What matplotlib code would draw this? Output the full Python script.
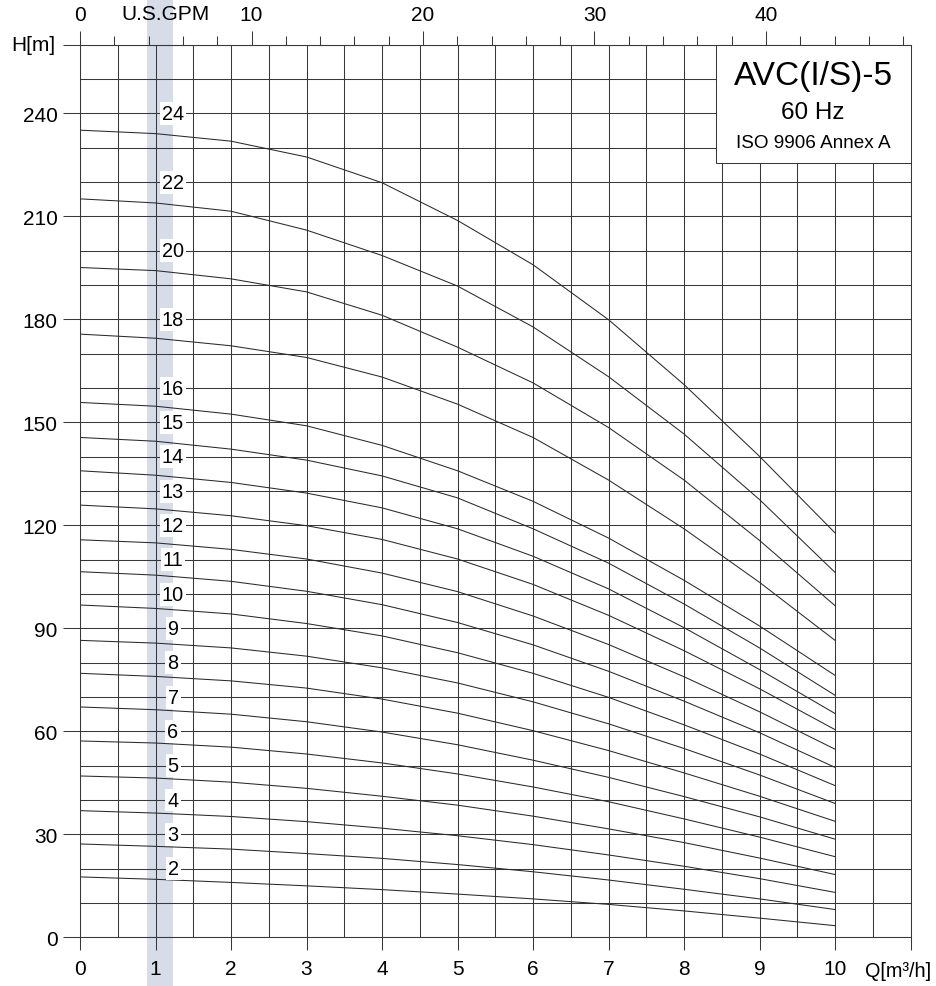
import matplotlib
matplotlib.use("Agg")
import matplotlib.pyplot as plt
from matplotlib.ticker import MultipleLocator, FixedLocator
from matplotlib.patches import Rectangle

plt.rcParams["font.family"] = ["Liberation Sans", "DejaVu Sans"]

# flow points (m3/h) where the curves were read
flow = [0, 1, 2, 3, 4, 5, 6, 7, 8, 9, 10]

# head (m) per number of stages
head_2 = [17.6, 16.9, 16.0, 15.0, 13.9, 12.6, 11.2, 9.6, 7.7, 5.6, 3.4]
head_3 = [27.2, 26.5, 25.7, 24.4, 23.0, 21.2, 19.1, 16.7, 14.0, 11.2, 8.1]
head_4 = [36.9, 36.2, 35.2, 33.7, 31.8, 29.6, 27.0, 24.0, 20.7, 17.1, 13.1]
head_5 = [47.0, 46.4, 45.2, 43.4, 41.1, 38.5, 35.3, 31.6, 27.6, 23.1, 18.3]
head_6 = [57.2, 56.6, 55.4, 53.4, 50.8, 47.6, 43.8, 39.5, 34.5, 29.2, 23.5]
head_7 = [67.1, 66.3, 65.0, 62.8, 59.8, 56.1, 51.6, 46.6, 41.0, 35.1, 28.6]
head_8 = [76.9, 76.0, 74.7, 72.6, 69.4, 65.3, 60.2, 54.4, 47.9, 41.1, 33.8]
head_9 = [86.5, 85.7, 84.3, 81.9, 78.5, 74.1, 68.6, 62.2, 55.0, 47.3, 39.0]
head_10 = [96.8, 95.8, 94.2, 91.4, 87.8, 82.9, 76.9, 69.9, 61.9, 53.4, 44.2]
head_11 = [106.5, 105.5, 103.7, 100.8, 96.9, 91.7, 85.2, 77.5, 68.8, 59.6, 49.5]
head_12 = [115.8, 114.9, 113.0, 110.2, 106.1, 100.7, 93.6, 85.3, 75.9, 65.7, 54.8]
head_13 = [125.9, 124.8, 122.8, 119.9, 115.9, 110.2, 102.8, 93.8, 83.5, 72.4, 60.5]
head_14 = [135.9, 134.6, 132.5, 129.4, 125.1, 119.0, 111.0, 101.5, 90.2, 78.0, 65.2]
head_15 = [145.6, 144.5, 142.2, 139.0, 134.4, 128.0, 119.0, 109.0, 97.1, 84.3, 70.5]
head_16 = [155.8, 154.7, 152.4, 149.0, 143.3, 135.9, 127.0, 116.3, 104.0, 90.7, 76.3]
head_18 = [175.7, 174.5, 172.3, 168.9, 163.2, 155.3, 145.6, 133.2, 119.0, 103.4, 86.5]
head_20 = [195.1, 194.2, 191.8, 188.0, 181.2, 171.9, 161.5, 148.5, 133.2, 115.6, 96.6]
head_22 = [215.1, 213.9, 211.5, 206.0, 198.6, 189.7, 177.8, 163.3, 146.6, 127.5, 106.3]
head_24 = [235.1, 234.1, 231.9, 227.3, 219.8, 208.8, 195.9, 179.9, 161.0, 140.1, 117.8]

curves = {2: head_2, 3: head_3, 4: head_4, 5: head_5, 6: head_6, 7: head_7,
          8: head_8, 9: head_9, 10: head_10, 11: head_11, 12: head_12,
          13: head_13, 14: head_14, 15: head_15, 16: head_16, 18: head_18,
          20: head_20, 22: head_22, 24: head_24}

x_ticks = [0, 1, 2, 3, 4, 5, 6, 7, 8, 9, 10, 11]
x_labels = ["0", "1", "2", "3", "4", "5", "6", "7", "8", "9", "10", ""]
y_ticks = [0, 30, 60, 90, 120, 150, 180, 210, 240, 260]
y_labels = ["0", "30", "60", "90", "120", "150", "180", "210", "240", ""]
gpm_ticks = [0, 10, 20, 30, 40]
GPM_PER_M3H = 4.4029

line_col = "#383838"
pale = "#d6dde9"

fig = plt.figure(figsize=(9.36, 9.87), dpi=100)
fig.patch.set_facecolor("white")
# pale watermark band behind the chart
fig.add_artist(Rectangle((147 / 936, 0), 26 / 936, 1, transform=fig.transFigure,
                         color=pale, zorder=-1, lw=0))

ax = fig.add_axes([0.0855, 0.0493, 0.8873, 0.9044])
ax.set_facecolor("none")
ax.set_xlim(0, 11)
ax.set_ylim(0, 260)

ax.xaxis.set_major_locator(FixedLocator(x_ticks))
ax.set_xticklabels(x_labels)
ax.xaxis.set_minor_locator(MultipleLocator(0.5))
ax.yaxis.set_major_locator(FixedLocator(y_ticks))
ax.set_yticklabels(y_labels)
ax.yaxis.set_minor_locator(MultipleLocator(10))
ax.grid(which="both", color=line_col, lw=0.75)
ax.set_axisbelow(True)
ax.tick_params(which="major", axis="x", length=9.4, width=0.75, color=line_col,
               labelsize=15, pad=6)
ax.tick_params(which="major", axis="y", length=12.2, width=0.75, color=line_col,
               labelsize=15, pad=4)
ax.tick_params(which="minor", length=0)
for s in ax.spines.values():
    s.set_color(line_col)
    s.set_linewidth(0.75)

# top axis in US GPM
sec = ax.secondary_xaxis("top", functions=(lambda q: q * GPM_PER_M3H,
                                           lambda g: g / GPM_PER_M3H))
sec.xaxis.set_major_locator(FixedLocator(gpm_ticks))
sec.xaxis.set_minor_locator(MultipleLocator(2))
sec.tick_params(which="major", length=10, width=0.75, color=line_col,
                labelsize=15, pad=5)
sec.tick_params(which="minor", length=6.5, width=0.75, color=line_col)
sec.spines["top"].set_color(line_col)
sec.spines["top"].set_linewidth(0.75)

# pump curves with stage numbers
for n, h in curves.items():
    ax.plot(flow, h, color="#2a2a2a", lw=0.75, zorder=2)
    ax.text(1.232, n * 10, str(n), ha="center", va="center", fontsize=14.3,
            zorder=3, bbox=dict(boxstyle="square,pad=0.1", fc="white", ec="none"))

# axis captions
ax.text(-0.33, 260, "H[m]", ha="right", va="center", fontsize=15)
ax.text(5 / GPM_PER_M3H, 1.0344, "U.S.GPM", ha="center", va="center",
        fontsize=15, transform=ax.get_xaxis_transform())
ax.text(10.40, -0.0366, "Q[m³/h]", ha="left", va="center", fontsize=14.3,
        transform=ax.get_xaxis_transform(), clip_on=False)

# title box
ax.add_patch(Rectangle((8.42, 225.5), 2.58, 34.5, fc="white", ec=line_col,
                       lw=0.75, zorder=4))
ax.text(9.71, 251.0, "AVC(I/S)-5", ha="center", va="center", fontsize=24, zorder=5)
ax.text(9.71, 240.4, "60 Hz", ha="center", va="center", fontsize=17.5, zorder=5)
ax.text(9.71, 231.6, "ISO 9906 Annex A", ha="center", va="center",
        fontsize=13.6, zorder=5)

fig.savefig("out.png", dpi=100)
